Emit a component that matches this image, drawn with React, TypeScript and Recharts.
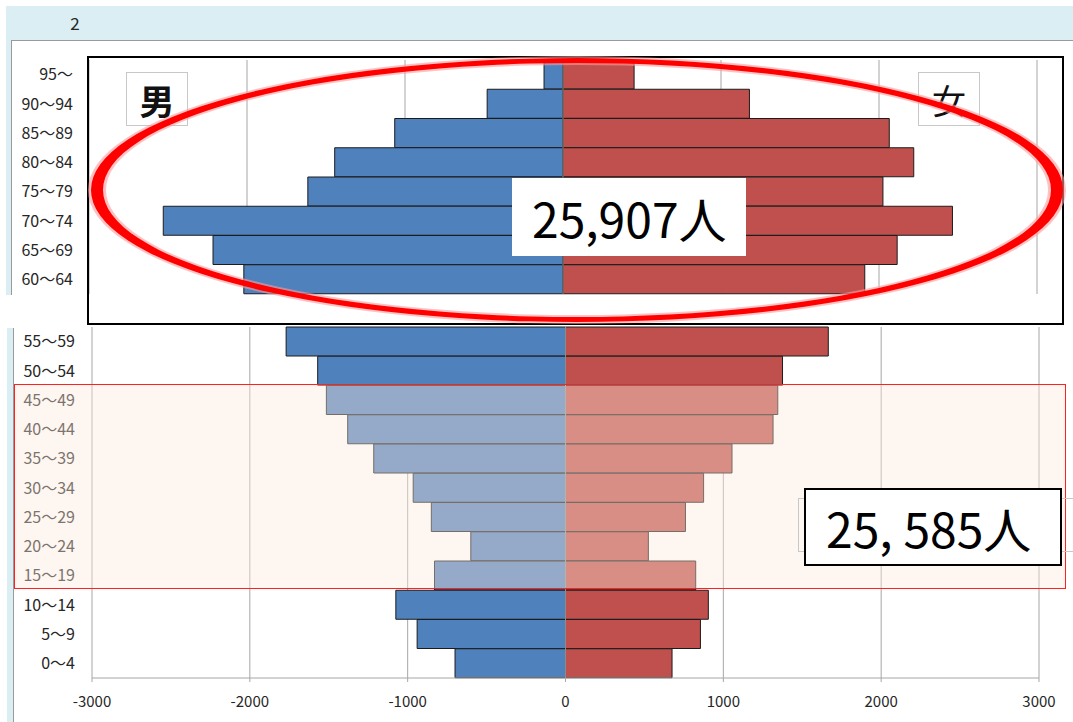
import React from "react";
import { BarChart, Bar, XAxis, YAxis, CartesianGrid, ReferenceLine } from "recharts";

const ageGroups = [
  "95～", "90～94", "85～89", "80～84", "75～79", "70～74", "65～69", "60～64",
  "55～59", "50～54", "45～49", "40～44", "35～39", "30～34", "25～29", "20～24",
  "15～19", "10～14", "5～9", "0～4",
];
const maleValues = [120, 480, 1065, 1445, 1615, 2530, 2215, 2020, 1770, 1570, 1515, 1380, 1215, 965, 850, 600, 830, 1075, 940, 700];
const femaleValues = [450, 1180, 2065, 2220, 2025, 2465, 2115, 1910, 1665, 1375, 1345, 1315, 1055, 875, 760, 525, 825, 905, 855, 675];
const xTicks = [-3000, -2000, -1000, 0, 1000, 2000, 3000];
const topCount = 8;
const totalSenior = "25,907人";
const totalYoung = "25, 585人";
const maleLabel = "男";
const femaleLabel = "女";
const headerLabel = "2";

const rows = ageGroups.map((age, i) => ({ age, male: -maleValues[i], female: femaleValues[i] }));
const topRows = rows.slice(0, topCount);
const bottomRows = rows.slice(topCount);

const FONT = "'Noto Sans CJK JP', 'Noto Sans', sans-serif";
const MALE = "#4F81BD";
const FEMALE = "#C0504D";
const GRID = "#a6a6a6";
const yTickStyle = { fontFamily: FONT, fontSize: 16, fill: "#262626" };
const xTickStyle = { fontFamily: FONT, fontSize: 15, fill: "#262626" };

function Pyramid({ data, width, height, margin, yWidth, yMargin, showX }: any) {
  return (
    <BarChart
      width={width}
      height={height}
      data={data}
      layout="vertical"
      stackOffset="sign"
      barCategoryGap={0}
      margin={margin}
    >
      <CartesianGrid horizontal={false} stroke={GRID} strokeWidth={1} />
      <XAxis
        type="number"
        domain={[-3000, 3000]}
        ticks={xTicks}
        allowDataOverflow
        hide={!showX}
        height={30}
        tick={xTickStyle}
        tickSize={4}
        tickMargin={14}
        axisLine={{ stroke: GRID }}
        tickLine={{ stroke: GRID }}
        interval={0}
      />
      <YAxis
        type="category"
        dataKey="age"
        width={yWidth}
        tick={yTickStyle}
        tickSize={0}
        tickMargin={yMargin}
        axisLine={false}
        tickLine={false}
        interval={0}
      />
      <Bar dataKey="male" stackId="p" fill={MALE} stroke="#1c1c1c" strokeWidth={1} isAnimationActive={false} />
      <Bar dataKey="female" stackId="p" fill={FEMALE} stroke="#1c1c1c" strokeWidth={1} isAnimationActive={false} />
      <ReferenceLine x={0} stroke="#8c8c8c" strokeWidth={1} />
    </BarChart>
  );
}

const abs = (s: any) => ({ position: "absolute" as const, ...s });

function ring(cx: number, cy: number, rxo: number, ryo: number, rxi: number, ryi: number) {
  const e = (rx: number, ry: number) =>
    `M ${cx - rx} ${cy} A ${rx} ${ry} 0 1 0 ${cx + rx} ${cy} A ${rx} ${ry} 0 1 0 ${cx - rx} ${cy} Z`;
  return `${e(rxo, ryo)} ${e(rxi, ryi)}`;
}

export default function App() {
  return (
    <div style={abs({ left: 0, top: 0, width: 1073, height: 722, background: "#fff", overflow: "hidden", fontFamily: FONT })}>
      {/* top frame */}
      <div style={abs({ left: 6, top: 6, width: 1067, height: 34, background: "#DAEEF3" })} />
      <div style={abs({ left: 6, top: 40, width: 5, height: 255, background: "#DAEEF3" })} />
      <div style={abs({ left: 11, top: 40, width: 1062, height: 1, background: "#9a9a9a" })} />
      <div style={abs({ left: 11, top: 40, width: 1, height: 255, background: "#9a9a9a" })} />
      <div style={abs({ left: 64, top: 10, width: 22, height: 26, fontSize: 17, color: "#262626", textAlign: "center", lineHeight: "26px" })}>
        {headerLabel}
      </div>
      {/* bottom frame */}
      <div style={abs({ left: 7, top: 328, width: 6, height: 394, background: "#DAEEF3" })} />
      <div style={abs({ left: 13, top: 328, width: 1, height: 394, background: "#9a9a9a" })} />

      <div style={abs({ left: 0, top: 0 })}>
        <Pyramid
          data={topRows}
          width={1073}
          height={300}
          margin={{ top: 60, right: 36, bottom: 6, left: 0 }}
          yWidth={89}
          yMargin={16}
          showX={false}
        />
      </div>
      <div style={abs({ left: 0, top: 300 })}>
        <Pyramid
          data={bottomRows}
          width={1073}
          height={422}
          margin={{ top: 27, right: 34, bottom: 14, left: 0 }}
          yWidth={92}
          yMargin={17}
          showX={true}
        />
      </div>

      {/* top annotations */}
      <div style={abs({ left: 126, top: 72, width: 62, height: 54, boxSizing: "border-box", border: "1px solid #c8c8c8", background: "#fff", display: "flex", alignItems: "center", justifyContent: "center", fontSize: 35, fontWeight: 700, color: "#111" })}>
        {maleLabel}
      </div>
      <div style={abs({ left: 918, top: 72, width: 62, height: 54, boxSizing: "border-box", border: "1px solid #c8c8c8", background: "#fff", display: "flex", alignItems: "center", justifyContent: "center", fontSize: 34, color: "#111" })}>
        {femaleLabel}
      </div>
      <div style={abs({ left: 87, top: 56, width: 977, height: 269, boxSizing: "border-box", border: "2px solid #000" })} />
      <svg width={1073} height={722} style={abs({ left: 0, top: 0, pointerEvents: "none" })}>
        <path d={ring(577, 190, 489, 134, 471, 125)} fill="#ff9a9a" fillRule="evenodd" opacity={0.6} />
        <path d={ring(577, 190, 486, 132, 474, 127)} fill="#ff0000" fillRule="evenodd" />
      </svg>
      <div style={abs({ left: 512, top: 178, width: 234, height: 78, background: "#fff", display: "flex", alignItems: "center", paddingLeft: 20, boxSizing: "border-box", fontSize: 48, color: "#000" })}>
        {totalSenior}
      </div>

      {/* bottom annotations */}
      <div style={abs({ left: 14, top: 384, width: 1052, height: 205, boxSizing: "border-box", border: "1px solid #ff2020", background: "rgba(252,232,217,0.4)" })} />
      <div style={abs({ left: 798, top: 498, width: 290, height: 54, boxSizing: "border-box", border: "1px solid #c8c8c8" })} />
      <div style={abs({ left: 804, top: 488, width: 258, height: 78, background: "#fff", border: "2px solid #000", display: "flex", alignItems: "center", paddingLeft: 20, boxSizing: "border-box", fontSize: 48, color: "#000" })}>
        {totalYoung}
      </div>
    </div>
  );
}
